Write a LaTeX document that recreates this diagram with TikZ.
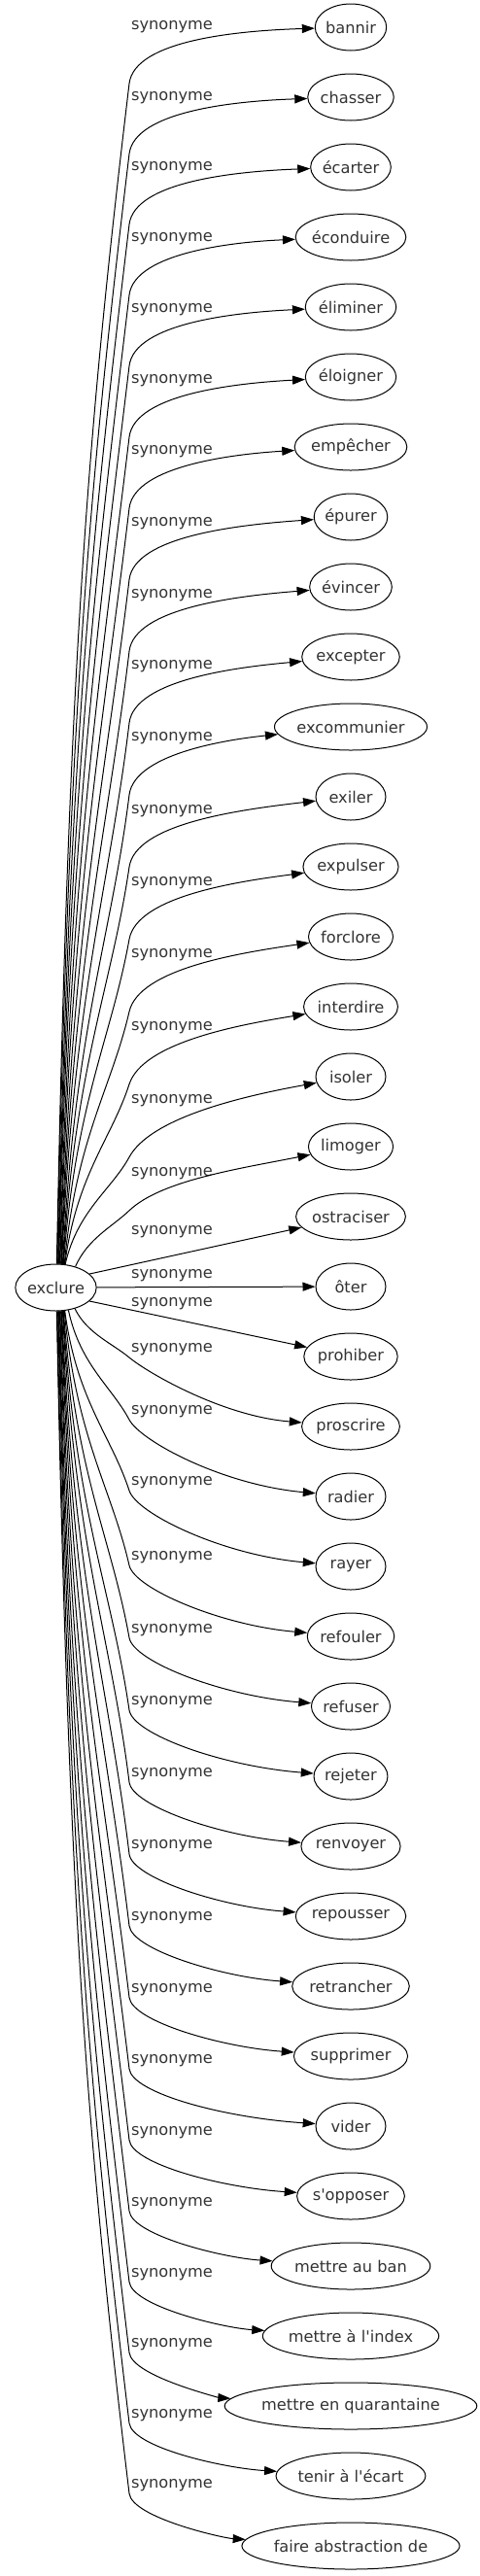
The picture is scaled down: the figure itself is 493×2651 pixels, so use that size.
\documentclass[tikz,border=0pt]{standalone}
\usepackage{fontspec}
\newfontfamily\wordfont{DejaVu Sans}[Ligatures=TeXOff]
\usetikzlibrary{arrows.meta, shapes.geometric}

\newlength\wordlen
\newcommand\wordstyle{\wordfont\fontsize{16.2}{19}\selectfont}

\tikzset{
word/.style={ellipse, draw, line width=1pt, minimum height=48pt, inner sep=0pt, font=\wordstyle, text=black!80}, % every word in an ellipse
synlabel/.style={font=\wordstyle, text=black!80, inner sep=0pt}, % text on the edges
syn/.style={-{Triangle[length=13pt, width=9pt]}, line width=1pt}, % the edges
}

\begin{document}
\begin{tikzpicture}[x=1pt, y=-1pt]
\useasboundingbox (0,0) rectangle (493,2651);
\settowidth\wordlen{\wordstyle exclure}
\node[word, minimum width={1.206*\wordlen+34.5pt}] (exclure) at (57.5,1325) {exclure};
\foreach \w/\ly [count=\i from 0] in {
    bannir/28, chasser/100.4, écarter/173, éconduire/245.7, éliminer/318.6,
    éloigner/391.8, empêcher/465, épurer/538.5, évincer/612.2, excepter/686,
    excommunier/760, exiler/834.2, expulser/908.6, forclore/983.1,
    interdire/1057.8, isoler/1132.8, limoger/1207.8, ostraciser/1268,
    ôter/1313, prohiber/1342, proscrire/1389, radier/1453, rayer/1526,
    refouler/1602.9, refuser/1677.4, rejeter/1751.8, renvoyer/1826,
    repousser/1900, retrancher/1973.8, supprimer/2047.5, vider/2121,
    s'opposer/2194.3, mettre au ban/2267.4, mettre à l'index/2340.3,
    mettre en quarantaine/2413, tenir à l'écart/2485.6,
    faire abstraction de/2558} {
    \settowidth\wordlen{\wordstyle \w}
    \pgfmathsetmacro\tgty{28+72*\i}
    \pgfmathsetmacro\tgw{max(72,1.206*\wordlen+34.5)}
    \node[word, minimum width=\tgw pt] (t\i) at (361,\tgty) {\w};
    \node[synlabel] (l\i) at (177,\ly) {synonyme};
    % edges going up
    \ifnum\i<17
        \pgfmathsetmacro\stx{\i<16 ? 58+0.6*\i : 78}
        \pgfmathsetmacro\kny{\ly+(\i<16 ? 58 : 38)}
        \pgfmathsetmacro\yoff{24*sqrt(1-((\stx-57.5)/53)^2)}
        \pgfmathtruncatemacro\phiang{atan2(\yoff,\stx-57.5)}
        \pgfmathsetmacro\sty{1325-\yoff}
        \pgfmathsetmacro\hgt{\sty-\kny}
        \pgfmathsetmacro\sdx{max(0.036*\hgt,18)}
        \pgfmathsetmacro\ddy{0.3*\hgt}
        \pgfmathsetmacro\rat{\sdx/\ddy}
        \pgfmathsetmacro\uy{1/sqrt(1+\rat*\rat)}
        \pgfmathsetmacro\ux{\rat*\uy}
        \pgfmathsetmacro\cax{\stx+12.5}
        \pgfmathsetmacro\cay{\sty-0.5*\hgt}
        \pgfmathsetmacro\cbx{133-\sdx}
        \pgfmathsetmacro\cby{\kny+\ddy}
        \pgfmathsetmacro\kax{133+45*\ux}
        \pgfmathsetmacro\kay{\kny-45*\uy}
        \pgfmathsetmacro\kby{\ly+5+0.3*(\tgty-\ly-5)}
        \coordinate (k\i) at (133,\kny);
        \draw[syn] (exclure.\phiang) .. controls (\cax,\cay) and (\cbx,\cby) .. (k\i)
            .. controls (\kax,\kay) and (245,\kby) .. (t\i);
    \fi
    % edges going down
    \ifnum\i>19
        \pgfmathsetmacro\stx{\i==20 ? 77 : (\i==21 ? 70 : 58+0.6*(36-\i))}
        \pgfmathsetmacro\kny{\ly+8}
        \pgfmathsetmacro\yoff{24*sqrt(1-((\stx-57.5)/53)^2)}
        \pgfmathtruncatemacro\phiang{-atan2(\yoff,\stx-57.5)}
        \pgfmathsetmacro\sty{1325+\yoff}
        \pgfmathsetmacro\hgt{\kny-\sty}
        \pgfmathsetmacro\sdx{max(0.036*\hgt,18)}
        \pgfmathsetmacro\ddy{0.3*\hgt}
        \pgfmathsetmacro\rat{\sdx/\ddy}
        \pgfmathsetmacro\uy{1/sqrt(1+\rat*\rat)}
        \pgfmathsetmacro\ux{\rat*\uy}
        \pgfmathsetmacro\cax{\stx+12.5}
        \pgfmathsetmacro\cay{\sty+0.5*\hgt}
        \pgfmathsetmacro\cbx{133-\sdx}
        \pgfmathsetmacro\cby{\kny-\ddy}
        \pgfmathsetmacro\kax{133+25*\ux}
        \pgfmathsetmacro\kay{\kny+25*\uy}
        \pgfmathsetmacro\kbx{(361-\tgw/2+133)/2}
        \pgfmathsetmacro\kby{\tgty-0.15*(\tgty-\kny)}
        \coordinate (k\i) at (133,\kny);
        \draw[syn] (exclure.\phiang) .. controls (\cax,\cay) and (\cbx,\cby) .. (k\i)
            .. controls (\kax,\kay) and (\kbx,\kby) .. (t\i);
    \fi
}
\draw[syn] (exclure.22) -- (t17);
\draw[syn] (exclure) -- (t18);
\draw[syn] (exclure.-22) -- (t19);
\end{tikzpicture}
\end{document}
